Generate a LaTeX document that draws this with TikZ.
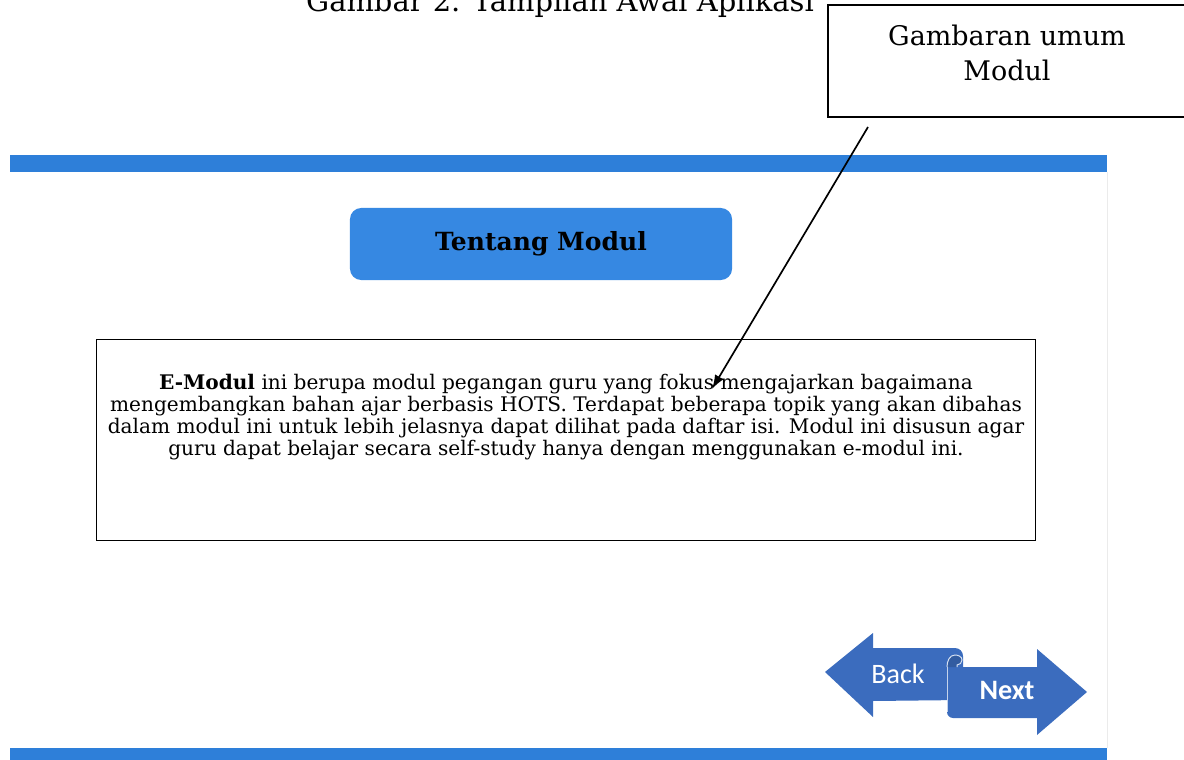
\documentclass[tikz,border=0pt]{standalone}
\usepackage{fontspec}
\setmainfont{DejaVu Serif}
\newfontfamily\btnfont{Carlito}
\usetikzlibrary{arrows.meta,positioning}
\definecolor{barblue}{HTML}{2E7FD9}
\definecolor{titleblue}{HTML}{3688E2}
\definecolor{btnblue}{HTML}{3B6CBE}
\begin{document}
\begin{tikzpicture}[
  x=0.025cm, y=-0.025cm,
  bar/.style={fill=barblue, draw=none},
  titlebox/.style={fill=titleblue, draw=none, rounded corners=8pt, minimum width=9.55cm, minimum height=1.8cm, font=\fontsize{17.8}{20}\selectfont\bfseries},
  frame/.style={draw, thick, inner sep=0pt},
  bodytext/.style={align=center, font=\fontsize{14.3}{15.6}\selectfont},
  notetext/.style={align=center, font=\fontsize{19.2}{25}\selectfont},
  btn/.style={fill=btnblue, draw=none},
  btnlbl/.style={text=white, font=\btnfont\fontsize{20}{24}\selectfont},
  >=Latex
]
\useasboundingbox (0,0) rectangle (1184,760);
% caption, cut by the page top
\node[anchor=base, font=\fontsize{20.6}{24}\selectfont] (caption) at (560,12) {Gambar 2. Tampilan Awal Aplikasi};

% screen bars
\fill[bar] (10,155) rectangle (1107,172);
\fill[bar] (10,748) rectangle (1107,762);
\draw[black!8] (1107,172) -- (1107,748);

\node[titlebox] (title) at (541,244) {Tentang Modul};
\node[frame, minimum width=23.45cm, minimum height=5.02cm] (descbox) at (566,440) {};
\node[bodytext] (desc) at (566,417) {\textbf{E-Modul} ini berupa modul pegangan guru yang fokus mengajarkan bagaimana\\
mengembangkan bahan ajar berbasis HOTS. Terdapat beberapa topik yang akan dibahas\\
dalam modul ini untuk lebih jelasnya dapat dilihat pada daftar isi. Modul ini disusun agar\\
guru dapat belajar secara self-study hanya dengan menggunakan e-modul ini.};
\node[frame, minimum width=9.1cm, minimum height=2.8cm] (note) at (1010,61) {};
\node[notetext] (notelbl) at (1007,53) {Gambaran umum\\Modul};

\coordinate (ntail) at (868,127);
\coordinate (nhead) at (712,389);
\draw[-{Latex[length=10pt,width=7pt]}, line width=1.2pt] (ntail) -- (nhead);

% back / next buttons
\fill[btn] (825,672) -- (873,633) -- (873,648) -- (955,648)
  to[out=0,in=90] (963,656) -- (963,700) -- (873,701) -- (873,717) -- cycle;
\fill[btn] (947,667) -- (1037,667) -- (1037,649) -- (1087,692) -- (1037,735)
  -- (1037,718) -- (953,718) to[out=180,in=-90] (947,712) -- cycle;
\draw[white!80!btnblue, line width=0.7pt, fill=btnblue!85!black] (947,667) to[out=90,in=180] (955,655)
  to[out=0,in=90] (962,660) to[out=-90,in=0] (957,665) -- (957,667);
\draw[white!70!btnblue, line width=0.5pt] (947,667) -- (947,712);
\node[btnlbl] (back) at (898,674) {Back};
\node[btnlbl, font=\btnfont\bfseries\fontsize{20}{24}\selectfont] (next) at (1007,690) {Next};
\end{tikzpicture}
\end{document}
